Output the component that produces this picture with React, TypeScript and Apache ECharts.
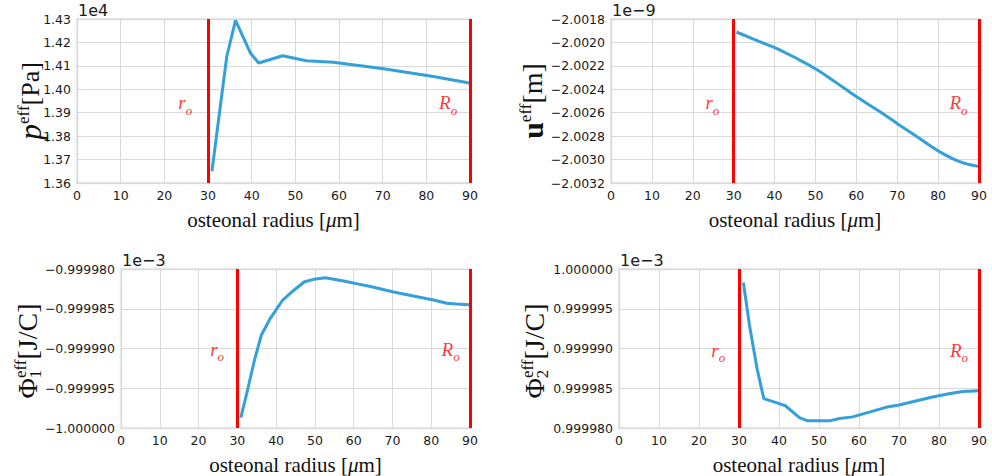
import React, { useEffect, useRef } from "react";
import * as echarts from "echarts";

// ---------- data ----------
const xTicks = [0, 10, 20, 30, 40, 50, 60, 70, 80, 90];
const boundaries = [30, 90];

const pressureR = [30.9, 34.3, 36.3, 39.7, 41.6, 47.1, 52.5, 58.7, 70.2, 81.6, 89.9];
const pressure = [1.365, 1.414, 1.4294, 1.4155, 1.4112, 1.4143, 1.4122, 1.4115, 1.4088, 1.4055, 1.4027];

const dispR = [30.7, 36.2, 40.3, 45.2, 50.1, 55.0, 59.9, 65.6, 70.4, 75.3, 80.2, 85.1, 89.8];
const disp = [-2.001911, -2.001991, -2.002048, -2.002133, -2.002227, -2.002341, -2.00246, -2.002588, -2.002702, -2.002816, -2.00293, -2.003015, -2.003058];

const phi1R = [30.9, 32.5, 34.4, 36.2, 38.5, 41.7, 44.5, 47.3, 49.7, 52.7, 57.4, 61.3, 64.3, 70.3, 75.4, 80.6, 84.0, 86.6, 89.9];
const phi1 = [-0.9999987, -0.9999955, -0.9999915, -0.9999883, -0.9999862, -0.9999839, -0.9999827, -0.9999816, -0.9999813, -0.9999811, -0.9999815, -0.9999819, -0.9999822, -0.9999829, -0.9999834, -0.9999839, -0.9999843, -0.9999844, -0.9999845];

const phi2R = [31.1, 32.6, 34.5, 36.2, 39.3, 41.6, 45.1, 47.2, 52.6, 55.1, 58.4, 62.6, 66.7, 70.0, 74.2, 78.4, 82.5, 85.9, 89.9];
const phi2 = [0.9999983, 0.999993, 0.9999875, 0.9999837, 0.9999832, 0.9999828, 0.9999813, 0.9999809, 0.9999809, 0.9999812, 0.9999814, 0.999982, 0.9999826, 0.9999829, 0.9999834, 0.9999839, 0.9999843, 0.9999846, 0.9999847];

const labelX = [24.8, 85.0];
const labelNames = ["r", "R"];
const labelY = [1.3943, -2.002517, -0.9999901, 0.9999898];

const yMin = [1.36, -2.0032, -1.0, 0.99998];
const yMax = [1.43, -2.0018, -0.99998, 1.0];
const yInterval = [0.01, 0.0002, 0.000005, 0.000005];
const yDecimals = [2, 4, 6, 6];
const offsetTexts = ["1e4", "1e\u22129", "1e\u22123", "1e\u22123"];
const smoothFlags = [false, 0.4, false, false];

// ---------- layout ----------
const grids = [
  { left: 77, top: 19, width: 393, height: 164 },
  { left: 611, top: 19, width: 368, height: 164 },
  { left: 121, top: 269, width: 349, height: 164 },
  { left: 619, top: 269, width: 360, height: 164 },
];

const BLUE = "#34a0da";
const RED = "#ff0000";
const TICK = "#1a1a1a";
const SERIF = "'Liberation Serif', 'DejaVu Serif', serif";
const SANS = "'DejaVu Sans', sans-serif";

export default function App() {
  const ref = useRef<HTMLDivElement>(null);

  useEffect(() => {
    if (!ref.current) return;
    const chart = echarts.init(ref.current, undefined, { renderer: "svg" });

    const xs = [pressureR, dispR, phi1R, phi2R];
    const ys = [pressure, disp, phi1, phi2];

    const series: any[] = [];
    ys.forEach((yArr, i) => {
      series.push({
        type: "line",
        xAxisIndex: i,
        yAxisIndex: i,
        data: yArr.map((v, k) => [xs[i][k], v]),
        showSymbol: false,
        symbol: "none",
        smooth: smoothFlags[i],
        lineStyle: { color: BLUE, width: 3 },
        z: 3,
        markLine: {
          silent: true,
          symbol: "none",
          label: { show: false },
          lineStyle: { color: RED, width: 3, type: "solid" },
          data: boundaries.map((b) => ({ xAxis: b })),
          z: 4,
        },
      });
      series.push({
        type: "scatter",
        xAxisIndex: i,
        yAxisIndex: i,
        symbolSize: 0,
        data: labelX.map((lx, k) => ({ value: [lx, labelY[i]], name: labelNames[k] })),
        label: {
          show: true,
          position: "inside",
          formatter: (p: any) => `{m|${p.name}}{s|o}`,
          rich: {
            m: { fontFamily: SERIF, fontStyle: "italic", fontSize: 19, color: RED, lineHeight: 20 },
            s: { fontFamily: SERIF, fontStyle: "italic", fontSize: 13, color: RED, lineHeight: 12, verticalAlign: "bottom", padding: [0, 0, -4, 0] },
          },
        },
        z: 5,
      });
    });

    const xAxis = grids.map((_, i) => ({
      type: "value",
      gridIndex: i,
      min: xTicks[0],
      max: xTicks[xTicks.length - 1],
      interval: 10,
      axisLine: { show: false },
      axisTick: { show: false },
      axisLabel: { color: TICK, fontFamily: SANS, fontSize: 12.5, margin: 6 },
      splitLine: { show: true, lineStyle: { color: "#d9d9d9", width: 1 } },
      name: "{a|osteonal radius [}{b|\u03bc}{a|m]}",
      nameLocation: "middle",
      nameGap: 26,
      nameTextStyle: {
        rich: {
          a: { fontFamily: SERIF, fontSize: 21, color: "#111" },
          b: { fontFamily: SERIF, fontStyle: "italic", fontSize: 21, color: "#111" },
        },
      },
    }));

    const yAxis = grids.map((_, i) => ({
      type: "value",
      gridIndex: i,
      min: yMin[i],
      max: yMax[i],
      interval: yInterval[i],
      axisLine: { show: false },
      axisTick: { show: false },
      axisLabel: {
        color: TICK,
        fontFamily: SANS,
        fontSize: 12.5,
        margin: 6,
        formatter: (v: number) => v.toFixed(yDecimals[i]).replace("-", "\u2212"),
      },
      splitLine: { show: true, lineStyle: { color: "#d9d9d9", width: 1 } },
    }));

    const titleStyle = (text: string, rich: any) => ({
      text,
      rich,
      align: "center",
      verticalAlign: "middle",
      fill: "#111",
    });

    const graphic: any[] = [];
    // offset texts
    grids.forEach((g, i) => {
      graphic.push({
        type: "text",
        x: g.left + 1,
        y: g.top - 1,
        style: { text: offsetTexts[i], font: `16px ${SANS}`, fill: TICK, align: "left", verticalAlign: "bottom" },
      });
    });
    // y titles
    graphic.push({
      type: "text",
      x: 30,
      y: 101,
      rotation: Math.PI / 2,
      style: titleStyle("{p|p}{e|eff}{b|[Pa]}", {
        p: { fontFamily: SERIF, fontStyle: "italic", fontSize: 32, lineHeight: 30 },
        e: { fontFamily: SERIF, fontSize: 17, lineHeight: 16, verticalAlign: "top" },
        b: { fontFamily: SERIF, fontSize: 26, lineHeight: 30 },
      }),
    });
    graphic.push({
      type: "text",
      x: 532,
      y: 101,
      rotation: Math.PI / 2,
      style: titleStyle("{u|u}{e|eff}{b|[m]}", {
        u: { fontFamily: SERIF, fontWeight: "bold", fontSize: 30, lineHeight: 30 },
        e: { fontFamily: SERIF, fontSize: 17, lineHeight: 16, verticalAlign: "top" },
        b: { fontFamily: SERIF, fontSize: 28, lineHeight: 30 },
      }),
    });
    const phiTitle = (cx: number, cy: number, sub: string) => {
      graphic.push({
        type: "text",
        x: cx,
        y: cy,
        rotation: Math.PI / 2,
        style: titleStyle("{f|\u03a6}{e|eff}{b|[J/C]}", {
          f: { fontFamily: SERIF, fontSize: 28, lineHeight: 30 },
          e: { fontFamily: SERIF, fontSize: 17, lineHeight: 16, verticalAlign: "top" },
          b: { fontFamily: SERIF, fontSize: 28, lineHeight: 30 },
        }),
      });
      graphic.push({
        type: "text",
        x: cx + 8,
        y: cy + 23,
        rotation: Math.PI / 2,
        style: { text: sub, font: `17px ${SERIF}`, fill: "#111", align: "center", verticalAlign: "middle" },
      });
    };
    phiTitle(27, 351, "1");
    phiTitle(534, 351, "2");

    chart.setOption({
      animation: false,
      backgroundColor: "#ffffff",
      grid: grids.map((g) => ({
        ...g,
        show: true,
        backgroundColor: "#ffffff",
        borderColor: "#e8e8e8",
        borderWidth: 2.5,
      })),
      xAxis,
      yAxis,
      series,
      graphic,
    });

    return () => chart.dispose();
  }, []);

  return (
    <div
      ref={ref}
      style={{ position: "fixed", left: 0, top: 0, width: 992, height: 476, background: "#fff" }}
    />
  );
}
